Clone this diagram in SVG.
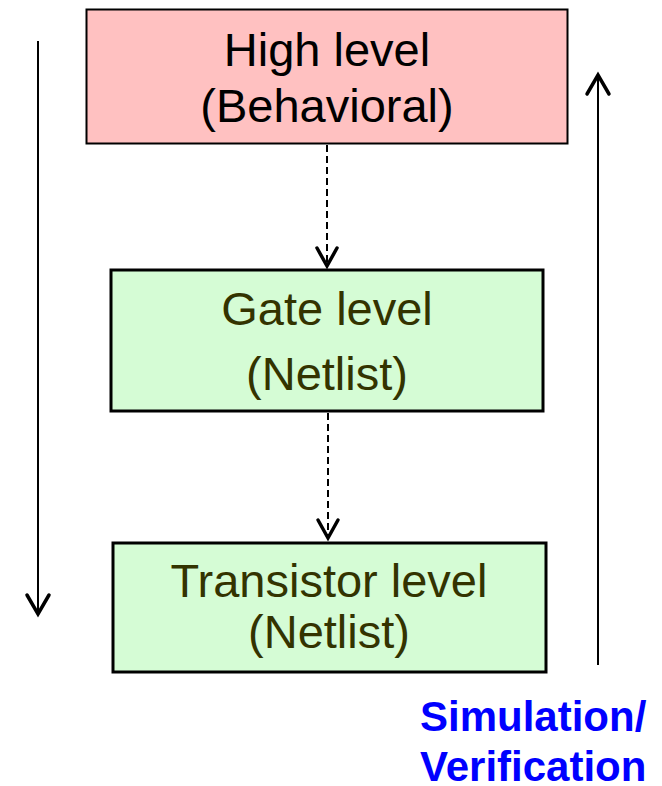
<svg xmlns="http://www.w3.org/2000/svg" width="662" height="786" viewBox="0 0 662 786">
<style>
.lbl{font-family:"Liberation Sans",Arial,sans-serif;font-size:47px;text-anchor:middle}
.dark{fill:#000000}
.olive{fill:#333300}
.head{fill:none;stroke:#000;stroke-width:3.5;stroke-linecap:round;stroke-linejoin:miter}
.solid{stroke:#000;stroke-width:2;fill:none}
.dash{stroke:#000;stroke-width:2;fill:none;stroke-dasharray:7,4}
.side{font-family:"Liberation Sans",Arial,sans-serif;font-size:42px;font-weight:bold;fill:#0000FF}
</style>
<rect width="662" height="786" fill="#ffffff"/>
<g id="high">
<rect x="86.5" y="9.5" width="481" height="134" fill="#FFC1C1" stroke="#000" stroke-width="2"/>
<text class="lbl dark" x="327" y="66">High level</text>
<text class="lbl dark" x="327" y="122">(Behavioral)</text>
</g>
<g id="gate">
<rect x="111" y="270" width="432" height="141" fill="#D5FCD5" stroke="#000" stroke-width="3"/>
<text class="lbl olive" x="327" y="325">Gate level</text>
<text class="lbl olive" x="327" y="390">(Netlist)</text>
</g>
<g id="transistor">
<rect x="113" y="543" width="433" height="129" fill="#D5FCD5" stroke="#000" stroke-width="3"/>
<text class="lbl olive" x="329" y="597">Transistor level</text>
<text class="lbl olive" x="329" y="648">(Netlist)</text>
</g>
<g id="label">
<text class="side" x="420" y="731">Simulation/</text>
<text class="side" x="420" y="781">Verification</text>
</g>
<g id="connectors">
<line class="dash" x1="327" y1="145" x2="327" y2="265"/>
<path class="head" d="M317,248 L327,266 L337,248"/>
<line class="dash" x1="328" y1="413" x2="328" y2="536"/>
<path class="head" d="M318,520 L328,538 L338,520"/>
<line class="solid" x1="38" y1="41" x2="38" y2="613"/>
<path class="head" d="M27,595 L38,614 L49,595"/>
<line class="solid" x1="598" y1="665" x2="598" y2="77"/>
<path class="head" d="M587,94 L598,75 L609,94"/>
</g>
</svg>
